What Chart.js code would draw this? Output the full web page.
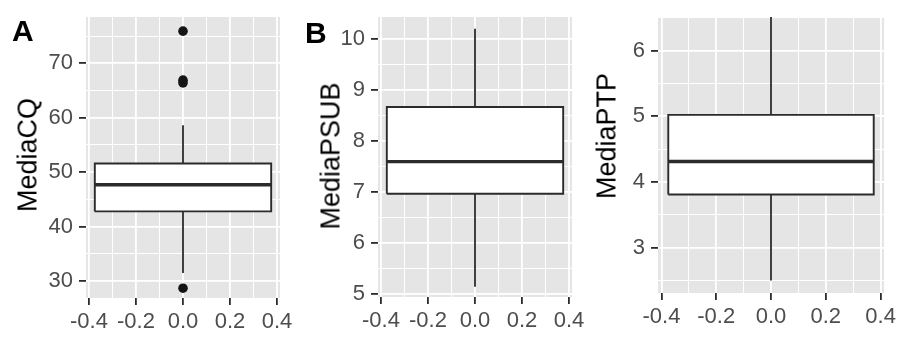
<!DOCTYPE html>
<html>
<head>
<meta charset="utf-8">
<script src="https://cdn.jsdelivr.net/npm/chart.js@4.4.0/dist/chart.umd.min.js"></script>
<style>
  html, body { margin: 0; padding: 0; background: #fff; }
  body { width: 897px; height: 337px; position: relative; overflow: hidden;
         font-family: "Liberation Sans", Arial, sans-serif; }
  canvas { position: absolute; top: 0; }
  .tag { position: absolute; font-weight: bold; font-size: 30px; line-height: 30px; color: #000; }
  .ytitle { position: absolute; font-size: 27px; line-height: 27px; color: #000; white-space: nowrap;
            transform: translate(-50%, -50%) rotate(-90deg); }
</style>
</head>
<body>
<canvas id="chartA" width="310" height="337" style="left:0px"></canvas>
<canvas id="chartB" width="310" height="337" style="left:300px"></canvas>
<canvas id="chartC" width="320" height="337" style="left:590px"></canvas>

<div class="tag" style="left:12px;top:16px">A</div>
<div class="tag" style="left:305px;top:18px">B</div>
<div class="ytitle" style="left:27.5px;top:155px">MediaCQ</div>
<div class="ytitle" style="left:331px;top:156px">MediaPSUB</div>
<div class="ytitle" style="left:606.5px;top:136px">MediaPTP</div>

<script>
// shared x axis (ggplot default box position)
const xMajor = [-0.4, -0.2, 0, 0.2, 0.4];
const xMinor = [-0.3, -0.1, 0.1, 0.3];
const xRange = [-0.4125, 0.4125];
const boxHalfWidth = 0.375;

// stats: [lower whisker, Q1, median, Q3, upper whisker]
const cqStats = [31.5, 42.8, 47.7, 51.6, 58.6];
const cqOutliers = [75.9, 66.9, 66.4, 28.7];
const cqMajor = [30, 40, 50, 60, 70];
const cqMinor = [35, 45, 55, 65, 75];
const cqRange = [26.9, 78.5];

const psubStats = [5.14, 6.96, 7.59, 8.66, 10.19];
const psubOutliers = [];
const psubMajor = [5, 6, 7, 8, 9, 10];
const psubMinor = [5.5, 6.5, 7.5, 8.5, 9.5];
const psubRange = [4.94, 10.42];

const ptpStats = [2.5, 3.81, 4.31, 5.02, 6.6];
const ptpOutliers = [];
const ptpMajor = [3, 4, 5, 6];
const ptpMinor = [2.5, 3.5, 4.5, 5.5, 6.5];
const ptpRange = [2.31, 6.51];

const PANEL_BG = '#E5E5E5';
const LINE_COL = '#2b2b2b';
const TICK_FONT = { family: "'Liberation Sans', Arial, sans-serif", size: 22, lineHeight: 1 };

const panelBg = {
    id: 'panelBg',
    beforeDraw(chart) {
        const a = chart.chartArea;
        const ctx = chart.ctx;
        ctx.save();
        ctx.fillStyle = PANEL_BG;
        ctx.fillRect(a.left, a.top, a.right - a.left, a.bottom - a.top);
        ctx.restore();
    }
};

function axisOptions(major, minor, range, fmt, fixSize) {
    const majorSet = new Set(major);
    const isMajor = (ctx) => ctx.tick && majorSet.has(ctx.tick.value);
    return {
        type: 'linear',
        min: range[0],
        max: range[1],
        afterBuildTicks: (scale) => {
            scale.ticks = major.concat(minor).sort((a, b) => a - b).map(v => ({ value: v }));
        },
        afterFit: fixSize,
        border: { display: false },
        grid: {
            color: '#ffffff',
            lineWidth: (ctx) => isMajor(ctx) ? 1.8 : 1,
            tickColor: (ctx) => isMajor(ctx) ? LINE_COL : 'rgba(0,0,0,0)',
            tickWidth: 1.8,
            tickLength: 7
        },
        ticks: {
            autoSkip: false,
            maxRotation: 0,
            padding: 6,
            color: '#4D4D4D',
            font: TICK_FONT,
            callback: (v) => majorSet.has(v) ? fmt(v) : ''
        }
    };
}

function lineSet(points, width, order) {
    return {
        data: points,
        borderColor: LINE_COL,
        borderWidth: width,
        pointRadius: 0,
        fill: false,
        order: order
    };
}

function makeBoxplot(id, stats, outliers, yMajor, yMinor, yRange, geo) {
    const [lo, q1, med, q3, hi] = stats;
    const h = boxHalfWidth;
    new Chart(document.getElementById(id), {
        type: 'line',
        data: {
            datasets: [
                { data: [{ x: -h, y: q1 }, { x: h, y: q1 }], borderColor: 'rgba(0,0,0,0)',
                  borderWidth: 1, pointRadius: 0, fill: false, order: 10 },
                { data: [{ x: -h, y: q3 }, { x: h, y: q3 }], borderColor: 'rgba(0,0,0,0)',
                  borderWidth: 1, pointRadius: 0, fill: '-1', backgroundColor: '#ffffff', order: 9 },
                lineSet([{ x: 0, y: q3 }, { x: 0, y: hi }], 1.8, 6),
                lineSet([{ x: 0, y: lo }, { x: 0, y: q1 }], 1.8, 6),
                lineSet([{ x: -h, y: q1 }, { x: h, y: q1 }, { x: h, y: q3 },
                         { x: -h, y: q3 }, { x: -h, y: q1 }], 1.9, 5),
                lineSet([{ x: -h, y: med }, { x: h, y: med }], 3.4, 4),
                { data: outliers.map(v => ({ x: 0, y: v })), showLine: false,
                  pointRadius: 4.8, pointBackgroundColor: '#151515', pointBorderWidth: 0, order: 1 }
            ]
        },
        options: {
            responsive: false,
            animation: false,
            events: [],
            devicePixelRatio: 1,
            layout: { padding: { left: 0, top: geo.top, right: geo.right, bottom: 0 } },
            plugins: { legend: { display: false }, tooltip: { enabled: false } },
            scales: {
                x: axisOptions(xMajor, xMinor, xRange, v => v.toFixed(1),
                               (s) => { s.height = geo.xHeight; }),
                y: axisOptions(yMajor, yMinor, yRange, v => String(v),
                               (s) => { s.width = geo.yWidth; })
            }
        },
        plugins: [panelBg]
    });
}

makeBoxplot('chartA', cqStats, cqOutliers, cqMajor, cqMinor, cqRange,
            { top: 12, right: 30, xHeight: 39, yWidth: 86 });
makeBoxplot('chartB', psubStats, psubOutliers, psubMajor, psubMinor, psubRange,
            { top: 13, right: 38, xHeight: 40, yWidth: 78 });
makeBoxplot('chartC', ptpStats, ptpOutliers, ptpMajor, ptpMinor, ptpRange,
            { top: 13, right: 26, xHeight: 44, yWidth: 68 });
</script>
</body>
</html>
